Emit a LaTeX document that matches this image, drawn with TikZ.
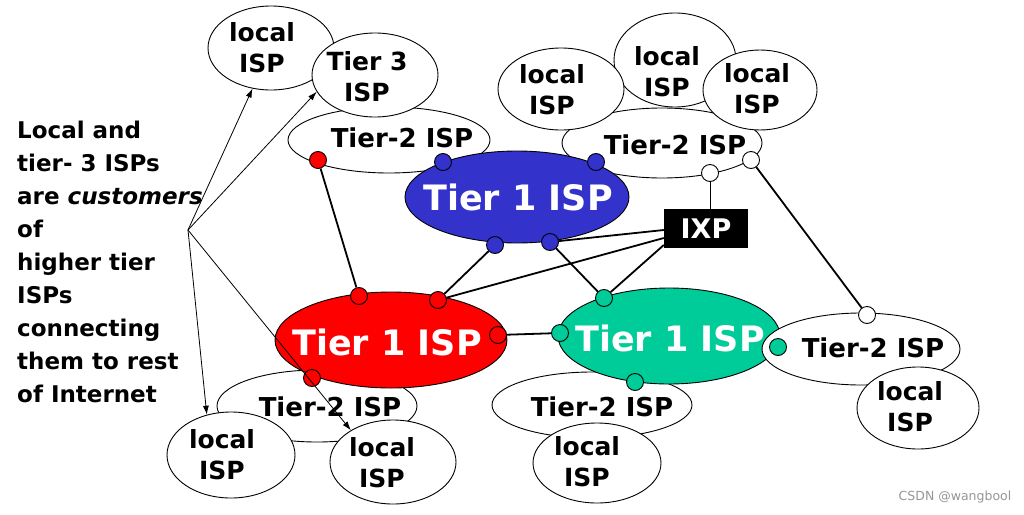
\documentclass[tikz,border=0pt]{standalone}
\usepackage{fontspec}
\setmainfont{DejaVu Sans}
\usetikzlibrary{shapes.geometric,arrows.meta}
\definecolor{tblue}{RGB}{51,51,204}
\definecolor{tred}{RGB}{255,0,0}
\definecolor{tgreen}{RGB}{0,204,153}
\definecolor{wm}{RGB}{150,150,150}
\tikzset{
  cloudisp/.style={ellipse, draw=black, line width=0.9pt, fill=white, inner sep=0pt},
  tierone/.style={ellipse, draw=black, line width=0.9pt, inner sep=0pt},
  lbl/.style={font=\bfseries\fontsize{25}{31}\selectfont, align=center, inner sep=0pt},
  tlbl/.style={font=\bfseries\fontsize{26}{31}\selectfont, inner sep=0pt},
  bigl/.style={font=\bfseries\fontsize{35}{40}\selectfont, text=white, inner sep=0pt},
  pdot/.style={circle, draw=black, line width=0.9pt, minimum size=17pt, inner sep=0pt},
  conn/.style={line width=1.8pt},
  ptr/.style={line width=0.8pt, -{Latex[length=9pt,width=6pt]}},
  lefttext/.style={font=\bfseries\fontsize{23}{33}\selectfont, align=left, inner sep=0pt}
}
\begin{document}
\begin{tikzpicture}[x=1pt,y=-1pt]
\fill[white] (0,0) rectangle (1024,514);
\useasboundingbox (0,0) rectangle (1024,514);

% top-left group
\node[cloudisp, minimum width=202pt, minimum height=66pt] (t2a) at (389,140) {};
\node[tlbl] (t2atx) at (402,138) {Tier-2 ISP};
\node[cloudisp, minimum width=126pt, minimum height=84pt] (lisp1) at (271,48) {};
\node[lbl] (lisp1tx) at (262,48) {local\\ISP};
\node[cloudisp, minimum width=126pt, minimum height=84pt] (t3) at (375,75) {};
\node[lbl] (t3tx) at (367,77) {Tier 3\\ISP};

% top-right group
\node[cloudisp, minimum width=200pt, minimum height=70pt] (t2b) at (662,143) {};
\node[tlbl] (t2btx) at (675,145) {Tier-2 ISP};
\node[cloudisp, minimum width=122pt, minimum height=94pt] (lisp3) at (675,60) {};
\node[lbl] (lisp3tx) at (667,72) {local\\ISP};
\node[cloudisp, minimum width=126pt, minimum height=82pt] (lisp2) at (561,89) {};
\node[lbl] (lisp2tx) at (552,90) {local\\ISP};
\node[cloudisp, minimum width=114pt, minimum height=80pt] (lisp4) at (760,90) {};
\node[lbl] (lisp4tx) at (757,89) {local\\ISP};

% blue tier 1
\node[tierone, fill=tblue, minimum width=224pt, minimum height=92pt] (blue) at (517,197) {};
\node[bigl] (bluetx) at (518,197) {Tier 1 ISP};

% bottom-left group
\node[cloudisp, minimum width=200pt, minimum height=72pt] (t2c) at (317,406) {};
\node[tlbl] (t2ctx) at (330,407) {Tier-2 ISP};
\node[tierone, fill=tred, minimum width=232pt, minimum height=96pt] (red) at (391,340) {};
\node[bigl] (redtx) at (387,342) {Tier 1 ISP};
\node[cloudisp, minimum width=128pt, minimum height=86pt] (lisp5) at (231,455) {};
\node[lbl] (lisp5tx) at (222,455) {local\\ISP};
\node[cloudisp, minimum width=126pt, minimum height=84pt] (lisp6) at (393,462) {};
\node[lbl] (lisp6tx) at (382,463) {local\\ISP};

% bottom-middle group
\node[cloudisp, minimum width=200pt, minimum height=66pt] (t2d) at (592,405) {};
\node[tlbl] (t2dtx) at (602,407) {Tier-2 ISP};
\node[tierone, fill=tgreen, minimum width=222pt, minimum height=96pt] (green) at (669,336) {};
\node[bigl] (greentx) at (670,338) {Tier 1 ISP};
\node[cloudisp, minimum width=128pt, minimum height=80pt] (lisp7) at (597,463) {};
\node[lbl] (lisp7tx) at (587,462) {local\\ISP};

% right group
\node[cloudisp, minimum width=198pt, minimum height=72pt] (t2e) at (861,349) {};
\node[tlbl] (t2etx) at (873,348) {Tier-2 ISP};
\node[cloudisp, minimum width=122pt, minimum height=82pt] (lisp8) at (918,408) {};
\node[lbl] (lisp8tx) at (910,407) {local\\ISP};

% IXP
\node[fill=black, minimum width=84pt, minimum height=39pt, inner sep=0pt,
      font=\bfseries\fontsize{27}{30}\selectfont, text=white] (ixp) at (706,228.5) {IXP};

% dots
\node[pdot, fill=tred] (r1) at (318,160) {};
\node[pdot, fill=tred] (r2) at (359,296) {};
\node[pdot, fill=tred] (r3) at (438,300) {};
\node[pdot, fill=tred] (r4) at (498,335) {};
\node[pdot, fill=tred] (r5) at (312,378) {};
\node[pdot, fill=tblue] (b1) at (443,162) {};
\node[pdot, fill=tblue] (b2) at (596,162) {};
\node[pdot, fill=tblue] (b3) at (495,245) {};
\node[pdot, fill=tblue] (b4) at (550,242) {};
\node[pdot, fill=tgreen] (g1) at (604,298) {};
\node[pdot, fill=tgreen] (g2) at (560,333) {};
\node[pdot, fill=tgreen] (g3) at (635,382) {};
\node[pdot, fill=tgreen] (g4) at (778,347) {};
\node[pdot, fill=white] (w1) at (710,173) {};
\node[pdot, fill=white] (w2) at (751,160) {};
\node[pdot, fill=white] (w3) at (867,315) {};

% links
\draw[conn] (r1) -- (r2);
\draw[conn] (b3) -- (r3);
\draw[conn] (b4) -- (g1);
\draw[conn] ([yshift=-1.5pt]ixp.west) -- (b4);
\draw[conn] ([yshift=-9.5pt]ixp.west) -- (r3);
\draw[conn] ([yshift=-16.5pt]ixp.west) -- (g1);
\draw[line width=1pt] (w1) -- (w1 |- ixp.north);
\draw[conn] (w2) -- (w3);
\draw[conn] (r4) -- (g2);

% left text and pointers
\node[lefttext, anchor=north west] (note) at (17,121)
  {Local and\\tier- 3 ISPs\\are \textit{customers}\\of\\higher tier\\ISPs\\connecting\\them to rest\\of Internet};
\coordinate (src) at (188,230);
\draw[ptr] (src) -- (lisp1);
\draw[ptr] (src) -- (t3.196);
\draw[ptr] (src) -- (lisp5.121);
\draw[ptr] (src) -- (lisp6.143.5);

% watermark
\node[font=\fontsize{12.5}{14}\selectfont, text=wm, inner sep=0pt] (wmark) at (955,497) {CSDN @wangbool};
\end{tikzpicture}
\end{document}
